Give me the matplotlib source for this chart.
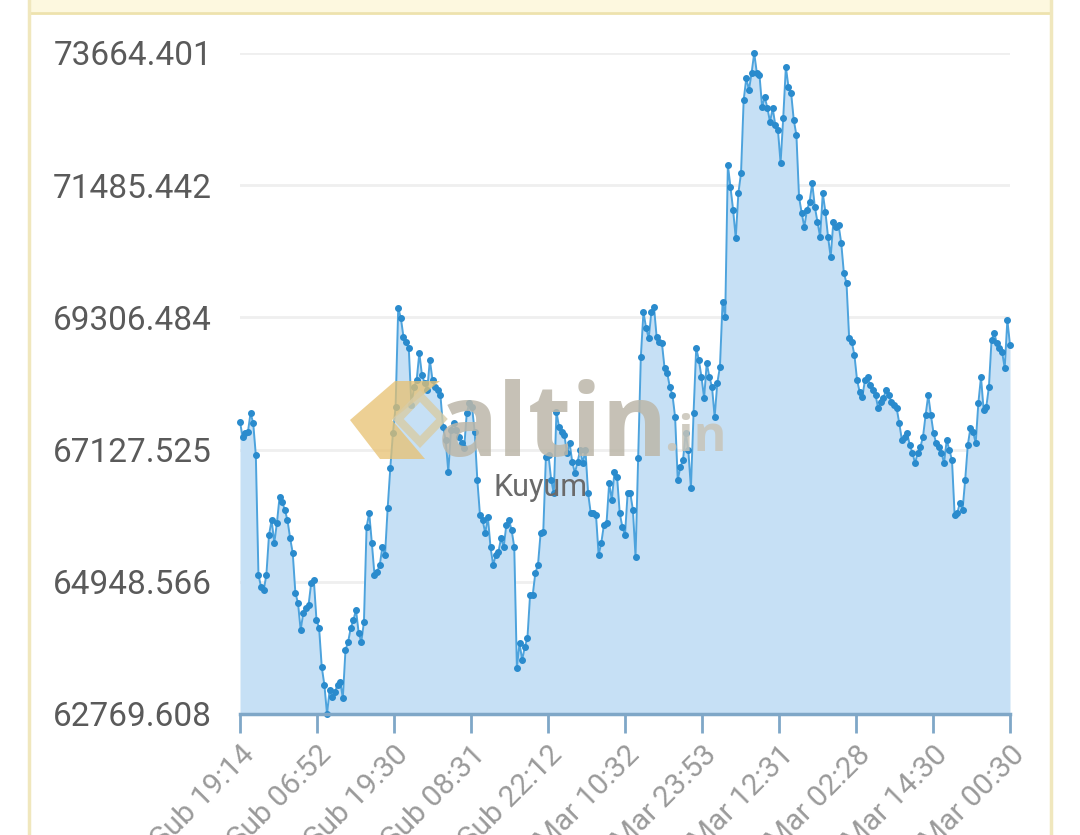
import numpy as np
import matplotlib.pyplot as plt
from matplotlib.patches import Polygon, Rectangle
import matplotlib.transforms as mtransforms

plt.rcParams['font.family'] = ['Roboto', 'DejaVu Sans']

# price series (evenly spaced samples)
prices = [
    67582, 67335, 67401, 67417, 67730, 67566, 67038, 65061, 64863, 64814,
    65061, 65720, 65967, 65588, 65918, 66346, 66264, 66132, 65967, 65670,
    65423, 64764, 64599, 64154, 64434, 64517, 64566, 64929, 64978, 64319,
    64187, 63545, 63248, 62769.608, 63166, 63050, 63133, 63248, 63297, 63034,
    63825, 63957, 64187, 64319, 64484, 64105, 63957, 64286, 65852, 66082,
    65588, 65061, 65110, 65226, 65522, 65390, 66165, 66824, 67401, 67829,
    69461, 69296, 68983, 68901, 68802, 67862, 68159, 68274, 68719, 68357,
    68225, 68110, 68604, 68274, 68159, 68110, 68027, 67500, 67286, 66758,
    67450, 67566, 67450, 67335, 67236, 67154, 67730, 67895, 67829, 67417,
    66626, 66050, 65967, 65753, 66017, 65522, 65226, 65390, 65440, 65670,
    65522, 65885, 65967, 65802, 65522, 63528, 63940, 63660, 63874, 64022,
    64731, 64731, 65094, 65226, 65753, 65769, 67005, 67038, 66626, 66412,
    67747, 67500, 67417, 67368, 67071, 67236, 66923, 66742, 66923, 67121,
    66906, 67121, 66412, 66082, 66082, 66050, 65390, 65588, 65885, 65918,
    66577, 66297, 66758, 66676, 66082, 65852, 65720, 66412, 66412, 66132,
    65357, 66989, 68653, 69395, 69131, 68966, 69395, 69477, 68983, 68901,
    68884, 68472, 68390, 68159, 68027, 67665, 66626, 66841, 66956, 67401,
    67121, 66494, 67730, 68802, 68604, 68324, 67978, 68554, 68324, 68159,
    67665, 68225, 68489, 69560, 69313, 71818, 71455, 71076, 70615, 71356,
    71686, 72889, 73251, 73054, 73334, 73664.401, 73334, 73301, 72773, 72938,
    72757, 72526, 72757, 72477, 72394, 71850, 72592, 73433, 73103, 73004,
    72559, 72312, 71290, 71026, 70796, 71076, 71208, 71521, 71125, 70878,
    70631, 71356, 71043, 70631, 70301, 70878, 70796, 70829, 70532, 70038,
    69873, 68966, 68901, 68686, 68274, 68077, 67994, 68274, 68324, 68192,
    68110, 68027, 67813, 67912, 67978, 68110, 68027, 67912, 67862, 67813,
    67566, 67286, 67335, 67401, 67203, 67071, 66906, 67071, 67170, 67335,
    67698, 68027, 67698, 67401, 67236, 67170, 67071, 66906, 67286, 67121,
    66956, 66050, 66082, 66247, 66132, 66626, 67203, 67483, 67417, 67236,
    67895, 68324, 67780, 67829, 68159, 68934, 69049, 68884, 68802, 68736,
    68472, 69263, 68851,
]

date_labels = ["26 Şub 19:14", "27 Şub 06:52", "27 Şub 19:30", "28 Şub 08:31",
               "28 Şub 22:12", "01 Mar 10:32", "01 Mar 23:53", "02 Mar 12:31",
               "03 Mar 02:28", "03 Mar 14:30", "04 Mar 00:30"]

y_ticks = [62769.608, 64948.566, 67127.525, 69306.484, 71485.442, 73664.401]
y_labels = ["62769.608", "64948.566", "67127.525", "69306.484", "71485.442", "73664.401"]

W, H = 1080, 835
fig = plt.figure(figsize=(W / 100, H / 100), dpi=100)
fig.patch.set_facecolor('white')

# page frame (yellow card border)
fig.patches.append(Rectangle((29 / W, 1 - 12 / H), (1051 - 29) / W, 12 / H,
                             transform=fig.transFigure, facecolor='#fdf8df',
                             edgecolor='none', zorder=0))
fig.add_artist(plt.Line2D([29 / W, 1051 / W], [1 - 13 / H, 1 - 13 / H],
                          transform=fig.transFigure, color='#eee2ad', lw=2))
for xp in (29, 1051):
    fig.add_artist(plt.Line2D([xp / W, xp / W], [0, 1],
                              transform=fig.transFigure, color='#f0e7bd', lw=2.5))

ax = fig.add_axes([240 / W, 1 - 714 / H, (1010 - 240) / W, (714 - 53) / H])
x = np.arange(len(prices))
ymin, ymax = y_ticks[0], y_ticks[-1]

ax.fill_between(x, prices, ymin, color='#c6e0f5', lw=0, zorder=1)
ax.plot(x, prices, color='#4da3dd', lw=1.4, zorder=3, clip_on=False,
        marker='o', ms=4, mfc='#2a8bcd', mec='#2a8bcd')

ax.set_xlim(0, len(prices) - 1)
ax.set_ylim(ymin, ymax)

ax.set_yticks(y_ticks)
ax.set_yticklabels(y_labels)
for yv in y_ticks[1:]:
    ax.axhline(yv, color='#efefef', lw=2, zorder=0.5)

ax.set_xticks(np.linspace(0, len(prices) - 1, len(date_labels)))
ax.set_xticklabels(date_labels, rotation=45, ha='right', va='top',
                   rotation_mode='anchor')
offset = mtransforms.ScaledTranslation(6 / 100, 0, fig.dpi_scale_trans)
for lbl in ax.get_xticklabels():
    lbl.set_transform(lbl.get_transform() + offset)

for s in ('top', 'right', 'left'):
    ax.spines[s].set_visible(False)
ax.spines['bottom'].set_color('#7fa7c7')
ax.spines['bottom'].set_linewidth(2.5)
ax.spines['bottom'].set_zorder(4)
ax.tick_params(axis='x', length=14, width=2, color='#7fa7c7', pad=5,
               labelsize=21.5, labelcolor='#9a9a9a')
ax.tick_params(axis='y', length=0, pad=20, labelsize=24, labelcolor='#5a5a5a')

# watermark
def fx(px):
    return px / W

def fy(py):
    return 1 - py / H

chev = [(395, 381), (440, 381), (392, 420), (425, 459), (380, 459), (350, 420)]
fig.patches.append(Polygon([(fx(a), fy(b)) for a, b in chev], closed=True,
                           transform=fig.transFigure, facecolor='#e8c170',
                           edgecolor='none', alpha=0.75, zorder=5))
diamond = [(420, 396), (442, 419), (420, 442), (398, 419)]
fig.patches.append(Polygon([(fx(a), fy(b)) for a, b in diamond], closed=True,
                           transform=fig.transFigure, facecolor='none',
                           edgecolor='#d8cca6', lw=6, alpha=0.8, zorder=5))
fig.text(fx(438), fy(456), 'altin', fontsize=72, fontweight='bold',
         family=['Open Sans', 'DejaVu Sans'],
         color='#bcb7a9', alpha=0.85, ha='left', va='baseline', zorder=6)
fig.text(fx(664), fy(451), '.in', fontsize=36, fontweight='bold',
         family=['Open Sans', 'DejaVu Sans'],
         color='#c8c4b8', alpha=0.85, ha='left', va='baseline', zorder=6)
fig.text(fx(493), fy(496), 'Kuyum', fontsize=22, color='#6a6a6a',
         ha='left', va='baseline', zorder=6)

fig.savefig('out.png', dpi=100)
